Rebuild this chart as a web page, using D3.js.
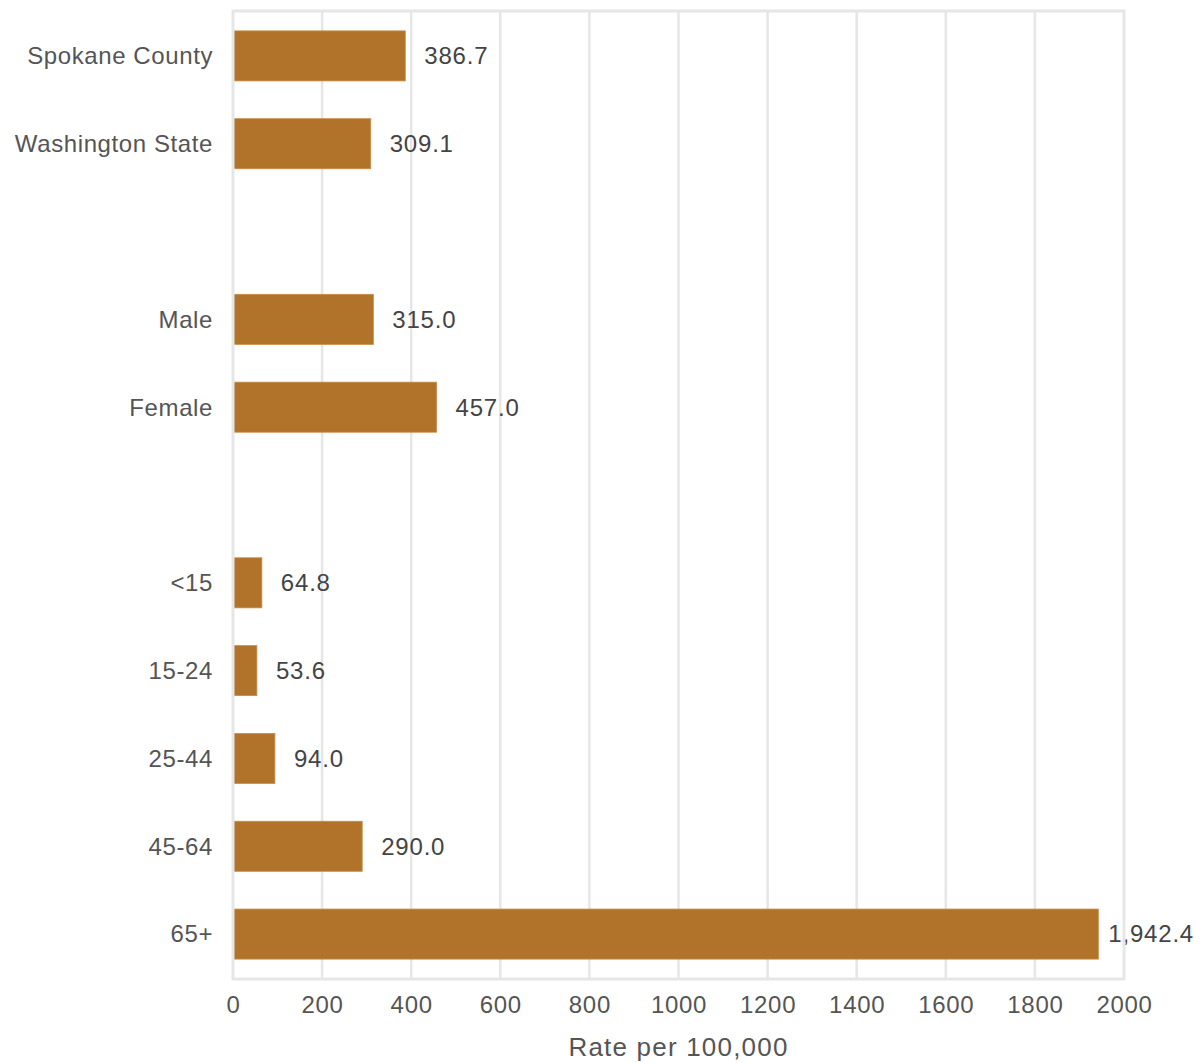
<!DOCTYPE html>
<html><head><meta charset="utf-8">
<script src="https://cdn.jsdelivr.net/npm/d3@7"></script>
<style>body{margin:0;background:#fff}svg{display:block}</style>
</head><body>
<script>
const categories = ["Spokane County","Washington State","__gap1","Male","Female","__gap2","<15","15-24","25-44","45-64","65+"];
const values = [386.7, 309.1, null, 315.0, 457.0, null, 64.8, 53.6, 94.0, 290.0, 1942.4];
const xTicks = [0,200,400,600,800,1000,1200,1400,1600,1800,2000];
const xTitle = "Rate per 100,000";

const W = 1202, H = 1063;
const font = "'Liberation Sans', Arial, sans-serif";
const svg = d3.select("body").append("svg").attr("width", W).attr("height", H).style("font-family", font);

const x = d3.scaleLinear().domain([0,2000]).range([233,1124]);
const y = d3.scaleBand().domain(categories).range([12,978]).paddingInner(0.43).paddingOuter(0.215);

// grid
svg.append("g").selectAll("line").data(xTicks.slice(1,-1)).join("line")
  .attr("x1", d=>x(d)).attr("x2", d=>x(d)).attr("y1", 11).attr("y2", 979)
  .attr("stroke", "#e6e6e6").attr("stroke-width", 2.5);

const data = categories.map((c,i)=>({c, v: values[i]})).filter(d=>d.v!=null);
svg.append("g").selectAll("rect").data(data).join("rect")
  .attr("x", x(0)).attr("y", d=>y(d.c)).attr("width", d=>x(d.v)-x(0)).attr("height", y.bandwidth())
  .attr("fill", "#b1732a").attr("stroke", "#c98c45").attr("stroke-width", 0.8);

const fmt = d3.format(",.1f");
svg.append("g").selectAll("text").data(data).join("text")
  .attr("x", d=>x(d.v)+ (d.v>1500?10:19)).attr("y", d=>y(d.c)+y.bandwidth()/2)
  .attr("dy","0.35em").attr("font-size", 24).attr("letter-spacing", 0.8).attr("fill", "#444").text(d=>fmt(d.v));

// frame
svg.append("rect").attr("x", x(0)).attr("y", 11).attr("width", x(2000)-x(0)).attr("height", 968)
  .attr("fill","none").attr("stroke","#e6e6e6").attr("stroke-width",3);

// y labels
svg.append("g").selectAll("text").data(categories.filter(c=>!c.startsWith("__"))).join("text")
  .attr("x", 213).attr("y", d=>y(d)+y.bandwidth()/2).attr("dy","0.35em")
  .attr("text-anchor","end").attr("font-size", 24).attr("letter-spacing", 0.6).attr("fill","#555").text(d=>d);

// x axis
const xa = svg.append("g").attr("transform","translate(0,1005)")
  .call(d3.axisBottom(x).tickValues(xTicks).tickFormat(d3.format("d")).tickSize(0).tickPadding(0));
xa.select(".domain").remove();
xa.selectAll("text").attr("font-size", 24).attr("letter-spacing", 0.7).attr("fill","#555").attr("font-family", font).attr("dy","0.35em");

svg.append("text").attr("x", (x(0)+x(2000))/2).attr("y", 1047).attr("dy","0.35em")
  .attr("text-anchor","middle").attr("font-size", 26).attr("letter-spacing", 1.2).attr("fill","#555").text(xTitle);
</script>
</body></html>
